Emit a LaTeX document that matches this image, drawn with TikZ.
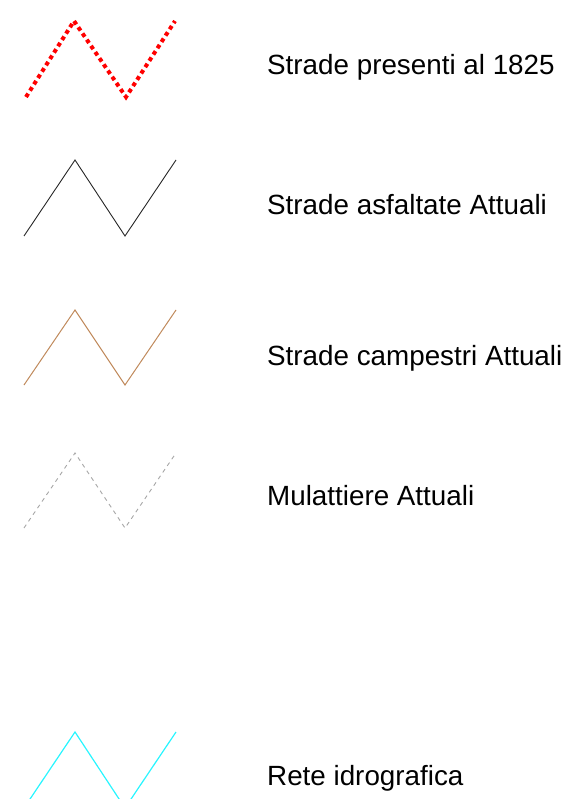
\documentclass[tikz,border=0pt]{standalone}
\usepackage{fontspec}
\setmainfont{Liberation Sans}
\begin{document}
\begin{tikzpicture}[x=1pt,y=-1pt,
  lbl/.style={anchor=base west,inner sep=0pt,font=\fontsize{27.8}{32}\selectfont},
  redroad/.style={draw=red,line width=4pt,dash pattern=on 4pt off 3.5pt},
  blackroad/.style={draw=black!85,line width=0.9pt},
  brownroad/.style={draw=brownc,line width=1pt},
  grayroad/.style={draw=black!35,line width=0.9pt,dash pattern=on 4pt off 4pt},
  cyanroad/.style={draw=cyanc,line width=1.2pt}]
\definecolor{brownc}{RGB}{192,138,92}
\definecolor{cyanc}{RGB}{40,245,255}
\useasboundingbox (0,0) rectangle (569,799);
\clip (0,0) rectangle (569,799);
% zigzags
\draw[redroad] (26,97) -- (74,21) -- (126,97) -- (175,21);
\draw[blackroad] (24,236) -- (75,160) -- (125,236) -- (176,160);
\draw[brownroad] (24,385) -- (75,310) -- (125,385) -- (176,310);
\draw[grayroad] (24,528) -- (75,453) -- (125,528) -- (176,453);
\draw[cyanroad] (24,808) -- (75,732) -- (125,808) -- (176,732);
% labels
\node[lbl] (t1) at (267,75) {Strade presenti al 1825};
\node[lbl] (t2) at (267,215) {Strade asfaltate Attuali};
\node[lbl] (t3) at (267,365) {Strade campestri Attuali};
\node[lbl] (t4) at (267,505) {Mulattiere Attuali};
\node[lbl] (t5) at (267,785) {Rete idrografica};
\end{tikzpicture}
\end{document}
